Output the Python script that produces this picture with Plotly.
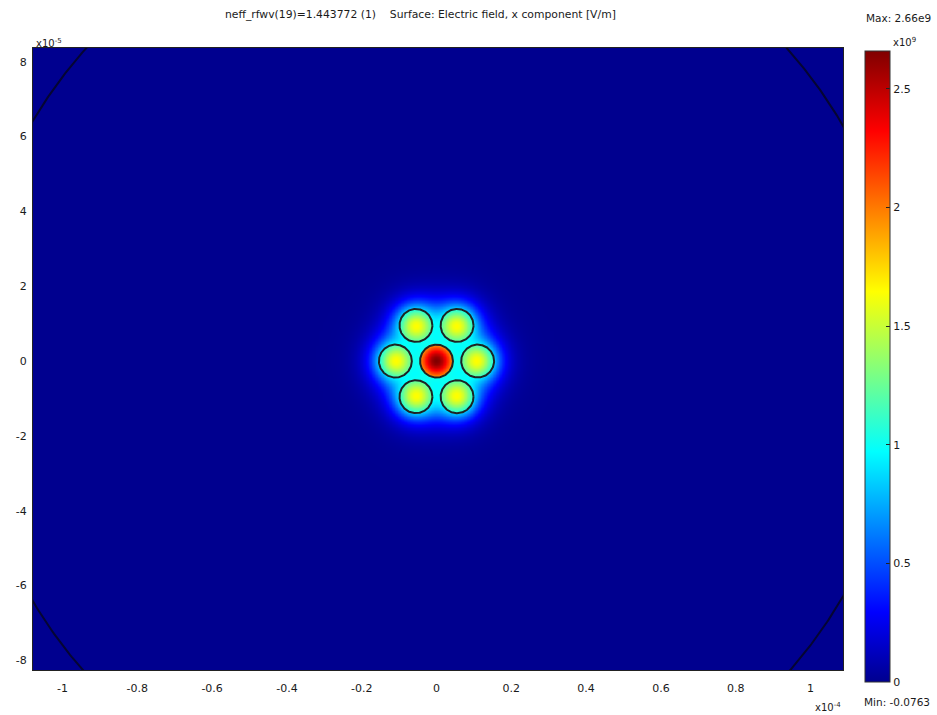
import numpy as np
import plotly.graph_objects as go

# ---- axes and colour bar ticks -------------------------------------------
X_TICKS = [-1, -0.8, -0.6, -0.4, -0.2, 0, 0.2, 0.4, 0.6, 0.8, 1]
X_TICK_UNIT = 1e-4
Y_TICKS = [8, 6, 4, 2, 0, -2, -4, -6, -8]
Y_TICK_UNIT = 1e-5
CB_TICKS = [0, 0.5, 1, 1.5, 2, 2.5]
CB_TICK_UNIT = 1e9
X_RANGE = [-1.079e-4, 1.087e-4]
Y_RANGE = [-8.26e-5, 8.37e-5]

# ---- fibre geometry (micrometres) -----------------------------------------
CORE_X_UM = [0.0, 11.0, 5.5, -5.5, -11.0, -5.5, 5.5]
CORE_Y_UM = [0.0, 0.0, 9.53, 9.53, 0.0, -9.53, -9.53]
CORE_RADIUS_UM = 4.4
CLADDING_RADIUS_UM = 125.6

# ---- supermode field description (units of 1e9 V/m) ----------------------
CORE_WEIGHT = [1.0, 1.0, 1.0, 1.0, 1.0, 1.0, 1.0]   # evanescent tail strength
CORE_STEP = [0.88, 0.18, 0.18, 0.18, 0.18, 0.18, 0.18]  # jump at the core wall
CORE_BUMP = [0.78, 0.55, 0.55, 0.55, 0.55, 0.55, 0.55]  # rise to the core centre
DECAY_UM = 2.5
ENVELOPE_CAP = 1.1

FIELD_MAX = 2.66e9
FIELD_MIN = -0.0763
NEFF_LABEL = "neff_rfwv(19)=1.443772 (1)"
SURFACE_LABEL = "Surface: Electric field, x component [V/m]"

# ---- evaluate Ex on a grid that is fine around the cores ------------------
xs_um = np.concatenate([np.arange(-110.0, -30.0, 1.0),
                        np.arange(-30.0, 30.0001, 0.2),
                        np.arange(31.0, 111.0, 1.0)])
ys_um = np.concatenate([np.arange(-86.0, -30.0, 1.0),
                        np.arange(-30.0, 30.0001, 0.2),
                        np.arange(31.0, 87.0, 1.0)])
XX, YY = np.meshgrid(xs_um, ys_um)

dist = [np.hypot(XX - cx, YY - cy) for cx, cy in zip(CORE_X_UM, CORE_Y_UM)]
tail = np.zeros_like(XX)
for w, r in zip(CORE_WEIGHT, dist):
    tail += w * np.exp(-np.clip(r - CORE_RADIUS_UM, 0, None) / DECAY_UM)
field = ENVELOPE_CAP * np.tanh(tail / ENVELOPE_CAP)

edge = np.exp(-1.0)
for step, bump, r in zip(CORE_STEP, CORE_BUMP, dist):
    inside = r < CORE_RADIUS_UM
    shape = (np.exp(-(r / CORE_RADIUS_UM) ** 2) - edge) / (1 - edge)
    field[inside] += step + bump * shape[inside]

ex = field / field.max() * FIELD_MAX

JET = [[0.0, "rgb(0,0,143)"], [0.111, "rgb(0,0,255)"], [0.365, "rgb(0,255,255)"],
       [0.619, "rgb(255,255,0)"], [0.873, "rgb(255,0,0)"], [1.0, "rgb(128,0,0)"]]

W, H = 937, 715
FONT = "DejaVu Sans"
TXT = "#1a1a1a"

fig = go.Figure()
fig.add_trace(go.Heatmap(
    x=xs_um * 1e-6, y=ys_um * 1e-6, z=ex,
    colorscale=JET, zmin=FIELD_MIN, zmax=FIELD_MAX,
    hoverinfo="skip",
    colorbar=dict(
        x=865 / W, xanchor="left", xpad=0,
        y=1 - 51 / H, yanchor="top", ypad=0,
        len=631, lenmode="pixels", thickness=25, thicknessmode="pixels",
        outlinecolor="#333", outlinewidth=1,
        tickvals=[t * CB_TICK_UNIT for t in CB_TICKS],
        ticktext=[f"{t:g}" for t in CB_TICKS],
        ticks="inside", ticklen=4, tickcolor="#222",
        tickfont=dict(family=FONT, size=11, color=TXT),
    ),
))

# core boundaries
theta = np.linspace(0, 2 * np.pi, 241)
for cx, cy in zip(CORE_X_UM, CORE_Y_UM):
    fig.add_trace(go.Scatter(
        x=(cx + CORE_RADIUS_UM * np.cos(theta)) * 1e-6,
        y=(cy + CORE_RADIUS_UM * np.sin(theta)) * 1e-6,
        mode="lines", line=dict(color="rgb(30,35,35)", width=2),
        hoverinfo="skip", showlegend=False))

# cladding boundary
theta_c = np.linspace(0, 2 * np.pi, 1441)
fig.add_trace(go.Scatter(
    x=CLADDING_RADIUS_UM * np.cos(theta_c) * 1e-6,
    y=CLADDING_RADIUS_UM * np.sin(theta_c) * 1e-6,
    mode="lines", line=dict(color="rgb(5,5,50)", width=2),
    hoverinfo="skip", showlegend=False))

axis_common = dict(showgrid=False, zeroline=False, showline=True,
                   linecolor="#222", linewidth=1, mirror=True,
                   ticks="outside", tickcolor="rgba(0,0,0,0)",
                   tickfont=dict(family=FONT, size=11, color=TXT))

fig.update_layout(
    width=W, height=H, margin=dict(l=0, r=0, t=0, b=0),
    paper_bgcolor="white", plot_bgcolor="rgb(0,0,143)",
    showlegend=False,
    xaxis=dict(domain=[33 / W, 843 / W], range=X_RANGE,
               tickvals=[t * X_TICK_UNIT for t in X_TICKS],
               ticktext=[f"{t:g}" for t in X_TICKS], ticklen=8, **axis_common),
    yaxis=dict(domain=[1 - 670 / H, 1 - 48 / H], range=Y_RANGE,
               tickvals=[t * Y_TICK_UNIT for t in Y_TICKS],
               ticktext=[f"{t:g}" for t in Y_TICKS], ticklen=3, **axis_common),
)

def note(text, x, y, xanchor="left", yanchor="middle", size=10.5):
    fig.add_annotation(text=text, x=x / W, y=1 - y / H, xref="paper", yref="paper",
                       xanchor=xanchor, yanchor=yanchor, showarrow=False,
                       font=dict(family=FONT, size=size, color=TXT))

gap = "\u00a0" * 4
note(NEFF_LABEL + gap + SURFACE_LABEL, 420, 15, xanchor="center", size=10.8)
note(f"Max: {FIELD_MAX / 1e9:.3g}e9", 864, 18)
note(f"Min: {FIELD_MIN:g}", 862, 702)
note("x10<sup>9</sup>", 891, 50, yanchor="bottom", size=10)
note("x10<sup>-5</sup>", 34, 51, yanchor="bottom", size=10)
note("x10<sup>-4</sup>", 813, 715, yanchor="bottom", size=10)

fig.write_html("out.html")
